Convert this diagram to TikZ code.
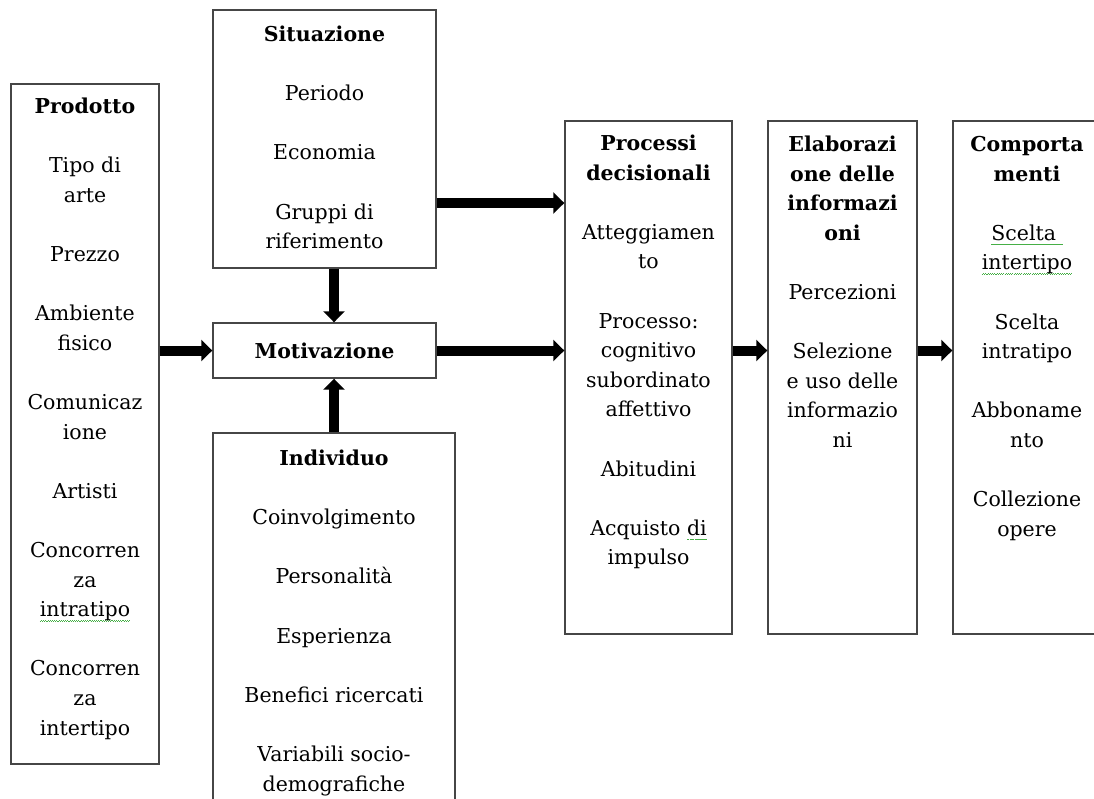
\documentclass[tikz,border=0pt]{standalone}
\usepackage{fontspec}
\setmainfont{DejaVu Serif}
\usetikzlibrary{arrows.meta}
\definecolor{sqgreen}{RGB}{70,175,70}
\definecolor{boxgray}{RGB}{70,70,70}
\newcommand\squig[1]{\setbox0=\hbox{#1}\rlap{\textcolor{sqgreen}{\hbox to \wd0{\xleaders\hbox{\rule[-4.8pt]{1.1pt}{0.8pt}\rule[-4.0pt]{1.1pt}{0.8pt}}\hfil}}}\box0}
\newcommand\fs{\fontsize{20.5pt}{29.6pt}\selectfont}
\newcommand\fl{\rule{0pt}{16pt}}
\begin{document}
\begin{tikzpicture}[x=1pt,y=-1pt,
  box/.style={draw=boxgray, line width=1.4pt, rectangle, inner sep=0pt, fill=white},
  txt/.style={anchor=north, align=center, inner sep=0pt, font=\fs},
  bigarrow/.style={line width=10pt, -{Triangle[width=21pt,length=11pt]}}]
\useasboundingbox (0,0) rectangle (1094,798);
\clip (0,0) rectangle (1094,798);
% boxes
\node[box, minimum width=148pt, minimum height=680pt] (prod) at (85,424) {};
\node[box, minimum width=223pt, minimum height=258pt] (sit) at (324.5,139) {};
\node[box, minimum width=223pt, minimum height=55pt, font=\fs] (mot) at (324.5,350.5) {\textbf{Motivazione}};
\node[box, minimum width=242pt, minimum height=397pt] (ind) at (334,631.5) {};
\node[box, minimum width=167pt, minimum height=513pt] (proc) at (648.5,377.5) {};
\node[box, minimum width=149pt, minimum height=513pt] (elab) at (842.5,377.5) {};
\node[box, minimum width=148pt, minimum height=513pt] (comp) at (1027,377.5) {};
% texts
\node[txt] (prodT) at ([yshift=-14pt]prod.north) {\fl\textbf{Prodotto}\\[29.6pt]
  Tipo di\\ arte\\[29.6pt] Prezzo\\[29.6pt] Ambiente\\ fisico\\[29.6pt]
  Comunicaz\\ ione\\[29.6pt] Artisti\\[29.6pt] Concorren\\ za\\ \squig{intratipo}\\[29.6pt]
  Concorren\\ za\\ intertipo};
\node[txt] (sitT) at ([yshift=-16pt]sit.north) {\fl\textbf{Situazione}\\[29.6pt]
  Periodo\\[29.6pt] Economia\\[29.6pt] Gruppi di\\ riferimento};
\node[txt] (indT) at ([yshift=-17pt]ind.north) {\fl\textbf{Individuo}\\[29.6pt]
  Coinvolgimento\\[29.6pt] Personalità\\[29.6pt] Esperienza\\[29.6pt]
  Benefici ricercati\\[29.6pt] Variabili socio-\\ demografiche};
\node[txt] (procT) at ([yshift=-14pt]proc.north) {\fl\textbf{Processi}\\ \textbf{decisionali}\\[29.6pt]
  Atteggiamen\\ to\\[29.6pt] Processo:\\ cognitivo\\ subordinato\\ affettivo\\[29.6pt]
  Abitudini\\[29.6pt] Acquisto \squig{di}\\ impulso};
\node[txt] (elabT) at ([yshift=-15pt]elab.north) {\fl\textbf{Elaborazi}\\ \textbf{one delle}\\ \textbf{informazi}\\ \textbf{oni}\\[29.6pt]
  Percezioni\\[29.6pt] Selezione\\ e uso delle\\ informazio\\ ni};
\node[txt] (compT) at ([yshift=-15pt]comp.north) {\fl\textbf{Comporta}\\ \textbf{menti}\\[29.6pt]
  \squig{Scelta\ }\\ \squig{intertipo}\\[29.6pt] Scelta\\ intratipo\\[29.6pt]
  Abboname\\ nto\\[29.6pt] Collezione\\ opere};
% arrows
\draw[bigarrow] (prod.east |- mot.west) -- (mot.west);
\draw[bigarrow] ([yshift=-64pt]sit.east) -- ([yshift=-64pt]sit.east -| proc.west);
\draw[bigarrow] (mot.east) -- (mot.east -| proc.west);
\draw[bigarrow] (ind.north |- sit.south) -- (ind.north |- mot.north);
\draw[bigarrow] (ind.north) -- (ind.north |- mot.south);
\draw[bigarrow] (proc.east |- mot.east) -- (elab.west |- mot.east);
\draw[bigarrow] (elab.east |- mot.east) -- (comp.west |- mot.east);
\end{tikzpicture}
\end{document}
